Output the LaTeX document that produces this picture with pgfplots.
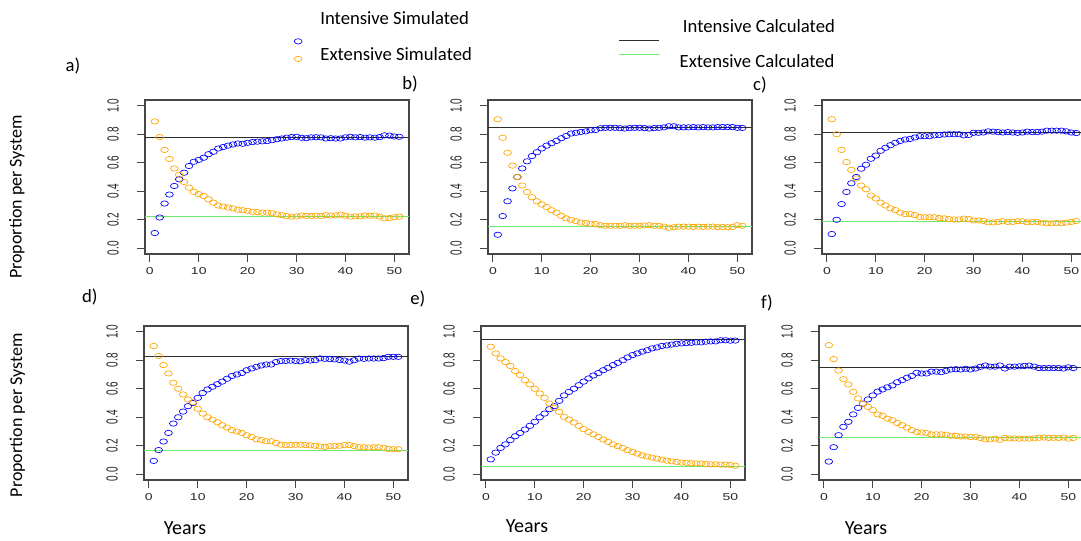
\documentclass[border=0pt]{standalone}
\usepackage{fontspec}
\setmainfont{Carlito}
\newfontfamily\tickfont{Liberation Sans}
\usepackage{pgfplots}
\usepackage{pgfplotstable}
\pgfplotsset{compat=1.18}

\definecolor{simblue}{RGB}{0,0,255}
\definecolor{simorange}{RGB}{255,165,0}
\definecolor{calcgreen}{RGB}{110,235,110}
\definecolor{calcblack}{RGB}{45,45,45}
\definecolor{boxgray}{RGB}{70,70,70}

% x = year, int = intensive simulated, ext = extensive simulated
\pgfplotstableread{
x int ext
1 0.107 0.890
2 0.216 0.780
3 0.314 0.690
4 0.377 0.626
5 0.437 0.560
6 0.484 0.515
7 0.530 0.465
8 0.577 0.425
9 0.607 0.395
10 0.620 0.380
11 0.635 0.367
12 0.660 0.344
13 0.677 0.320
14 0.700 0.300
15 0.710 0.293
16 0.720 0.286
17 0.728 0.280
18 0.735 0.270
19 0.733 0.267
20 0.740 0.263
21 0.745 0.256
22 0.748 0.254
23 0.750 0.250
24 0.752 0.250
25 0.758 0.246
26 0.765 0.238
27 0.770 0.232
28 0.776 0.226
29 0.780 0.222
30 0.782 0.223
31 0.775 0.230
32 0.772 0.228
33 0.778 0.226
34 0.779 0.229
35 0.778 0.226
36 0.770 0.232
37 0.772 0.230
38 0.770 0.231
39 0.770 0.236
40 0.778 0.228
41 0.782 0.222
42 0.778 0.224
43 0.780 0.224
44 0.776 0.230
45 0.778 0.228
46 0.776 0.230
47 0.780 0.222
48 0.792 0.210
49 0.790 0.212
50 0.784 0.218
51 0.782 0.222
}\dataA

\pgfplotstableread{
x int ext
1 0.095 0.905
2 0.226 0.775
3 0.330 0.670
4 0.420 0.580
5 0.500 0.500
6 0.560 0.440
7 0.610 0.395
8 0.647 0.358
9 0.674 0.330
10 0.700 0.307
11 0.720 0.290
12 0.737 0.267
13 0.753 0.250
14 0.772 0.228
15 0.788 0.210
16 0.805 0.200
17 0.810 0.190
18 0.816 0.180
19 0.820 0.177
20 0.828 0.172
21 0.830 0.170
22 0.842 0.162
23 0.845 0.158
24 0.845 0.158
25 0.845 0.158
26 0.842 0.158
27 0.840 0.162
28 0.843 0.158
29 0.845 0.158
30 0.845 0.158
31 0.843 0.160
32 0.840 0.162
33 0.843 0.158
34 0.845 0.157
35 0.848 0.152
36 0.856 0.145
37 0.856 0.148
38 0.848 0.152
39 0.848 0.152
40 0.848 0.152
41 0.850 0.150
42 0.848 0.152
43 0.850 0.150
44 0.848 0.152
45 0.848 0.152
46 0.850 0.148
47 0.850 0.150
48 0.850 0.148
49 0.850 0.150
50 0.845 0.162
51 0.844 0.158
}\dataB

\pgfplotstableread{
x int ext
1 0.100 0.905
2 0.200 0.800
3 0.310 0.690
4 0.395 0.605
5 0.456 0.550
6 0.500 0.490
7 0.558 0.440
8 0.586 0.414
9 0.628 0.370
10 0.650 0.350
11 0.684 0.320
12 0.705 0.300
13 0.723 0.280
14 0.740 0.268
15 0.753 0.250
16 0.763 0.240
17 0.767 0.240
18 0.777 0.233
19 0.786 0.220
20 0.786 0.218
21 0.786 0.218
22 0.792 0.218
23 0.795 0.212
24 0.798 0.210
25 0.800 0.205
26 0.800 0.202
27 0.800 0.202
28 0.792 0.208
29 0.795 0.205
30 0.810 0.195
31 0.810 0.195
32 0.812 0.192
33 0.820 0.182
34 0.818 0.182
35 0.815 0.185
36 0.812 0.190
37 0.815 0.185
38 0.812 0.185
39 0.810 0.190
40 0.812 0.190
41 0.818 0.182
42 0.815 0.185
43 0.815 0.185
44 0.818 0.180
45 0.825 0.175
46 0.825 0.175
47 0.825 0.177
48 0.825 0.175
49 0.820 0.180
50 0.812 0.185
51 0.808 0.192
}\dataC

\pgfplotstableread{
x int ext
1 0.094 0.900
2 0.170 0.830
3 0.230 0.766
4 0.290 0.707
5 0.356 0.642
6 0.400 0.600
7 0.440 0.560
8 0.478 0.525
9 0.500 0.505
10 0.536 0.460
11 0.570 0.426
12 0.595 0.400
13 0.614 0.384
14 0.632 0.365
15 0.650 0.344
16 0.670 0.328
17 0.690 0.310
18 0.700 0.300
19 0.710 0.290
20 0.730 0.274
21 0.742 0.262
22 0.754 0.246
23 0.763 0.240
24 0.770 0.232
25 0.770 0.232
26 0.787 0.220
27 0.794 0.208
28 0.795 0.205
29 0.797 0.205
30 0.795 0.207
31 0.792 0.207
32 0.800 0.205
33 0.798 0.203
34 0.800 0.200
35 0.813 0.195
36 0.810 0.192
37 0.808 0.197
38 0.806 0.198
39 0.802 0.200
40 0.798 0.205
41 0.790 0.205
42 0.800 0.198
43 0.812 0.190
44 0.810 0.190
45 0.812 0.188
46 0.812 0.190
47 0.812 0.190
48 0.815 0.186
49 0.824 0.178
50 0.824 0.176
51 0.824 0.176
}\dataD

\pgfplotstableread{
x int ext
1 0.105 0.895
2 0.152 0.848
3 0.185 0.813
4 0.210 0.787
5 0.240 0.760
6 0.267 0.724
7 0.290 0.696
8 0.314 0.660
9 0.340 0.630
10 0.368 0.600
11 0.400 0.567
12 0.426 0.536
13 0.457 0.496
14 0.478 0.466
15 0.515 0.438
16 0.553 0.403
17 0.578 0.384
18 0.600 0.363
19 0.625 0.340
20 0.650 0.316
21 0.672 0.297
22 0.693 0.280
23 0.710 0.262
24 0.730 0.244
25 0.747 0.227
26 0.766 0.210
27 0.782 0.197
28 0.800 0.185
29 0.820 0.169
30 0.836 0.157
31 0.848 0.145
32 0.860 0.133
33 0.870 0.124
34 0.883 0.117
35 0.890 0.110
36 0.900 0.103
37 0.904 0.096
38 0.910 0.091
39 0.915 0.087
40 0.918 0.082
41 0.920 0.080
42 0.922 0.078
43 0.925 0.077
44 0.925 0.076
45 0.930 0.072
46 0.932 0.070
47 0.932 0.070
48 0.940 0.068
49 0.940 0.068
50 0.937 0.066
51 0.938 0.060
}\dataE

\pgfplotstableread{
x int ext
1 0.089 0.906
2 0.190 0.808
3 0.274 0.728
4 0.333 0.667
5 0.368 0.630
6 0.420 0.578
7 0.466 0.532
8 0.496 0.496
9 0.525 0.473
10 0.553 0.450
11 0.580 0.420
12 0.595 0.410
13 0.610 0.390
14 0.623 0.380
15 0.646 0.360
16 0.660 0.344
17 0.677 0.328
18 0.690 0.310
19 0.712 0.297
20 0.707 0.293
21 0.707 0.290
22 0.720 0.280
23 0.720 0.280
24 0.716 0.280
25 0.726 0.278
26 0.735 0.270
27 0.737 0.270
28 0.735 0.265
29 0.740 0.265
30 0.735 0.262
31 0.742 0.262
32 0.754 0.255
33 0.763 0.245
34 0.755 0.245
35 0.755 0.250
36 0.763 0.242
37 0.742 0.255
38 0.755 0.252
39 0.755 0.252
40 0.757 0.250
41 0.760 0.250
42 0.762 0.250
43 0.755 0.252
44 0.745 0.256
45 0.745 0.258
46 0.745 0.255
47 0.745 0.256
48 0.745 0.255
49 0.742 0.258
50 0.750 0.250
51 0.745 0.255
}\dataF

\pgfplotsset{
  panel/.style={
    scale only axis, width=198pt, height=115.5pt,
    xmin=-1, xmax=53, ymin=-0.04, ymax=1.04,
    xtick={0,10,20,30,40,50}, ytick={0,0.2,0.4,0.6,0.8,1},
    tick align=outside, tick pos=left, major tick length=6pt,
    axis line style={boxgray, line width=0.8pt},
    tick style={boxgray, line width=0.8pt},
    /pgf/number format/assume math mode=true,
    tick label style={font=\tickfont\fontsize{7.5}{9}\selectfont, text=black!85},
    xticklabel style={anchor=center, yshift=-7pt, xscale=1.4},
    yticklabel style={anchor=center, xshift=-18pt, rotate=90, yscale=1.6,
      /pgf/number format/fixed, /pgf/number format/fixed zerofill,
      /pgf/number format/precision=1},
    title style={font=\fontsize{14}{16}\selectfont, anchor=center, yshift=-6.5pt},
    xlabel style={font=\fontsize{15}{17}\selectfont},
    ylabel style={font=\fontsize{13.5}{16}\selectfont},
  },
  simint/.style={only marks, mark=o, simblue, mark size=2pt,
    mark options={xscale=1.45, line width=0.5pt}},
  simext/.style={only marks, mark=o, simorange, mark size=2pt,
    mark options={xscale=1.45, line width=0.5pt}},
  % legend images drawn a little off their text row, as in the figure
  markimg/.style={legend image code/.code={\path (0pt,0pt) (17pt,0pt);
    \draw[##1, overlay] plot coordinates {(8.5pt,#1)};}},
  lineimg/.style={legend image code/.code={\path (0pt,0pt) (37pt,0pt);
    \draw[##1, overlay] (0pt,#1) -- (30pt,#1);}},
}

\begin{document}
\begin{tikzpicture}
\useasboundingbox (0,0) rectangle (810.75pt,-405.75pt);
\clip (0,0) rectangle (810.75pt,-405.75pt);

% a)
\begin{axis}[panel, at={(108.75pt,-75pt)}, anchor=north west,
  title={a)}, title style={at={(axis description cs:-0.273,1.227)}},
  ylabel={Proportion per System},
  ylabel style={at={(axis description cs:-0.485,0.37)}, anchor=center},
  legend columns=2, transpose legend, legend cell align=left,
  legend style={draw=none, fill=none, font=\fontsize{14}{16}\selectfont,
    at={(axis description cs:0.520,1.613)}, anchor=north west, row sep=6pt,
    /tikz/every odd column/.append style={column sep=6pt},
    /tikz/every even column/.append style={column sep=108pt}}]
\addplot[simint, markimg=-17pt] table[x=x,y=int]{\dataA};
\addlegendentry{Intensive Simulated}
\addplot[simext, markimg=-3pt] table[x=x,y=ext]{\dataA};
\addlegendentry{Extensive Simulated}
\addplot[calcblack, line width=0.8pt, lineimg=-16.5pt] coordinates {(-1,0.78) (53,0.78)};
\addlegendentry[yshift=-6pt, xshift=4.5pt]{Intensive Calculated}
\addplot[calcgreen, line width=0.8pt, lineimg=0.5pt] coordinates {(-1,0.22) (53,0.22)};
\addlegendentry[yshift=-5pt, xshift=2pt]{Extensive Calculated}
\end{axis}

% b)
\begin{axis}[panel, at={(366pt,-75pt)}, anchor=north west,
  title={b)}, title style={at={(axis description cs:-0.295,1.11)}}]
\addplot[simint] table[x=x,y=int]{\dataB};
\addplot[simext] table[x=x,y=ext]{\dataB};
\addplot[calcblack, line width=0.8pt] coordinates {(-1,0.844) (53,0.844)};
\addplot[calcgreen, line width=0.8pt] coordinates {(-1,0.156) (53,0.156)};
\end{axis}

% c)
\begin{axis}[panel, at={(616.5pt,-75pt)}, anchor=north west,
  title={c)}, title style={at={(axis description cs:-0.235,1.10)}}]
\addplot[simint] table[x=x,y=int]{\dataC};
\addplot[simext] table[x=x,y=ext]{\dataC};
\addplot[calcblack, line width=0.8pt] coordinates {(-1,0.81) (53,0.81)};
\addplot[calcgreen, line width=0.8pt] coordinates {(-1,0.188) (53,0.188)};
\end{axis}

% d)
\begin{axis}[panel, at={(108pt,-244.5pt)}, anchor=north west,
  title={d)}, title style={at={(axis description cs:-0.205,1.195)}},
  ylabel={Proportion per System},
  ylabel style={at={(axis description cs:-0.48,0.42)}, anchor=center},
  xlabel={Years}, xlabel style={at={(axis description cs:0.155,-0.31)}, anchor=center}]
\addplot[simint] table[x=x,y=int]{\dataD};
\addplot[simext] table[x=x,y=ext]{\dataD};
\addplot[calcblack, line width=0.8pt] coordinates {(-1,0.824) (53,0.824)};
\addplot[calcgreen, line width=0.8pt] coordinates {(-1,0.166) (53,0.166)};
\end{axis}

% e)
\begin{axis}[panel, at={(360.75pt,-244.5pt)}, anchor=north west,
  title={e)}, title style={at={(axis description cs:-0.239,1.18)}},
  xlabel={Years}, xlabel style={at={(axis description cs:0.174,-0.30)}, anchor=center}]
\addplot[simint] table[x=x,y=int]{\dataE};
\addplot[simext] table[x=x,y=ext]{\dataE};
\addplot[calcblack, line width=0.8pt] coordinates {(-1,0.946) (53,0.946)};
\addplot[calcgreen, line width=0.8pt] coordinates {(-1,0.052) (53,0.052)};
\end{axis}

% f)
\begin{axis}[panel, at={(614.25pt,-244.5pt)}, anchor=north west,
  title={f)}, title style={at={(axis description cs:-0.197,1.156)}},
  xlabel={Years}, xlabel style={at={(axis description cs:0.178,-0.31)}, anchor=center}]
\addplot[simint] table[x=x,y=int]{\dataF};
\addplot[simext] table[x=x,y=ext]{\dataF};
\addplot[calcblack, line width=0.8pt] coordinates {(-1,0.75) (53,0.75)};
\addplot[calcgreen, line width=0.8pt] coordinates {(-1,0.255) (53,0.255)};
\end{axis}
\end{tikzpicture}
\end{document}
